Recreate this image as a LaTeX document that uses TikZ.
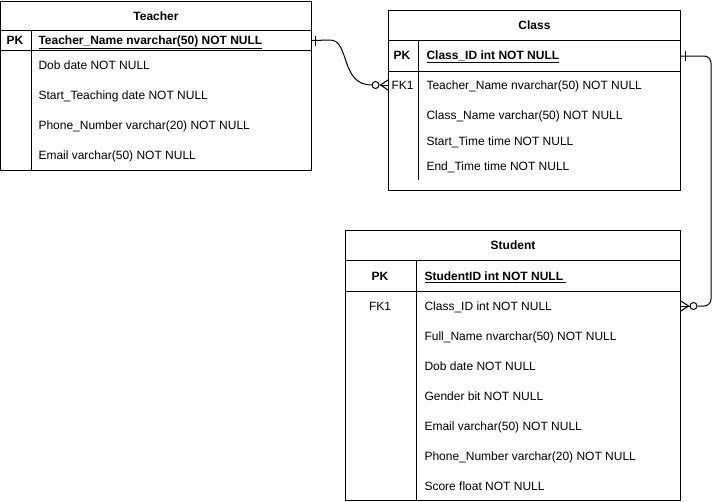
\documentclass[tikz,border=0pt]{standalone}
\usepackage{fontspec}
\setmainfont{Liberation Sans}
\usetikzlibrary{positioning, calc}

\begin{document}
\begin{tikzpicture}[x=1pt, y=-1pt, line width=1pt,
    every node/.style={font=\fontsize{12}{14}\selectfont, inner sep=0pt},
    bold/.style={font=\fontsize{12}{14}\selectfont\bfseries},
    tabhead/.style={draw, anchor=north west, bold},
    tabrow/.style={draw, anchor=north west},
    field/.style={anchor=west, text height=8.6pt, text depth=0pt},
    keytag/.style={text height=8.6pt, text depth=0pt},
    ring/.style={circle, draw, fill=white, minimum size=7pt}]
    \useasboundingbox (0,0) rectangle (720,501);

    % --- Tabel Teacher ---
    \node[tabhead, minimum width=311pt, minimum height=29pt] (tTitle) at (0,1) {Teacher};
    \node[tabrow, minimum width=311pt, minimum height=20pt] (tPK) at (0,30) {};
    \node[tabrow, minimum width=311pt, minimum height=120pt] (tBody) at (0,50) {};
    \draw (31,30) -- (31,170); % kolom kunci
    \node[keytag, bold] (tPKtag) at (15,40) {PK};
    \node[field, bold] (tName) at (38,40) {\underline{Teacher\_Name nvarchar(50) NOT NULL}};
    \node[field] (tDob) at (38,65) {Dob date NOT NULL};
    \node[field] (tStart) at (38,95) {Start\_Teaching date NOT NULL};
    \node[field] (tPhone) at (38,125) {Phone\_Number varchar(20) NOT NULL};
    \node[field] (tEmail) at (38,155) {Email varchar(50) NOT NULL};

    % --- Tabel Class ---
    \node[tabhead, minimum width=292pt, minimum height=30pt] (cTitle) at (388,10) {Class};
    \node[tabrow, minimum width=292pt, minimum height=31pt] (cPK) at (388,40) {};
    \node[tabrow, minimum width=292pt, minimum height=119pt] (cBody) at (388,71) {};
    \draw (418,40) -- (418,180); % kolom kunci
    \node[keytag, bold] (cPKtag) at (402,55.5) {PK};
    \node[field, bold] (cID) at (426,55.5) {\underline{Class\_ID int NOT NULL}};
    \node[keytag] (cFKtag) at (402.5,85) {FK1};
    \node[field] (cTeacher) at (426,85) {Teacher\_Name nvarchar(50) NOT NULL};
    \node[field] (cName) at (426,115) {Class\_Name varchar(50) NOT NULL};
    \node[field] (cStart) at (426,141) {Start\_Time time NOT NULL};
    \node[field] (cEnd) at (426,166) {End\_Time time NOT NULL};

    % --- Tabel Student ---
    \node[tabhead, minimum width=335pt, minimum height=30pt] (sTitle) at (345,230) {Student};
    \node[tabrow, minimum width=335pt, minimum height=31pt] (sPK) at (345,260) {};
    \node[tabrow, minimum width=335pt, minimum height=209pt] (sBody) at (345,291) {};
    \draw (416,260) -- (416,500); % kolom kunci
    \node[keytag, bold] (sPKtag) at (380,276) {PK};
    \node[field, bold] (sID) at (424,276) {\underline{StudentID int NOT NULL\ }};
    \node[keytag] (sFKtag) at (380,306) {FK1};
    \node[field] (sClassID) at (424,306) {Class\_ID int NOT NULL};
    \node[field] (sName) at (424,336) {Full\_Name nvarchar(50) NOT NULL};
    \node[field] (sDob) at (424,366) {Dob date NOT NULL};
    \node[field] (sGender) at (424,396) {Gender bit NOT NULL};
    \node[field] (sEmail) at (424,426) {Email varchar(50) NOT NULL};
    \node[field] (sPhone) at (424,456) {Phone\_Number varchar(20) NOT NULL};
    \node[field] (sScore) at (424,486) {Score float NOT NULL};

    % --- Relasi Teacher -> Class ---
    \coordinate (cIn) at (cBody.west |- cTeacher);
    \node[ring, left=8.5pt of cIn] (cRing) {};
    \draw (tPK.east) -- (330,40) .. controls (350,40) and (340,85) .. (cRing.west);
    \draw ($(tPK.east)+(3,-5)$) -- ++(0,10); % tanda satu
    \draw (cRing.east) -- (cIn);
    \draw ($(cIn)+(0,-5)$) -- ($(cRing.east)+(1,0)$) -- ($(cIn)+(0,5)$); % kaki gagak

    % --- Relasi Class -> Student ---
    \coordinate (sIn) at (sBody.east |- sClassID);
    \node[ring, right=8.5pt of sIn] (sRing) {};
    \draw[rounded corners=7pt] (cPK.east) -- ++(30,0) |- (sRing.east);
    \draw ($(cPK.east)+(4,-5)$) -- ++(0,10); % tanda satu
    \draw (sRing.west) -- (sIn);
    \draw ($(sIn)+(0,-5)$) -- ($(sRing.west)+(-1,0)$) -- ($(sIn)+(0,5)$); % kaki gagak
\end{tikzpicture}
\end{document}
